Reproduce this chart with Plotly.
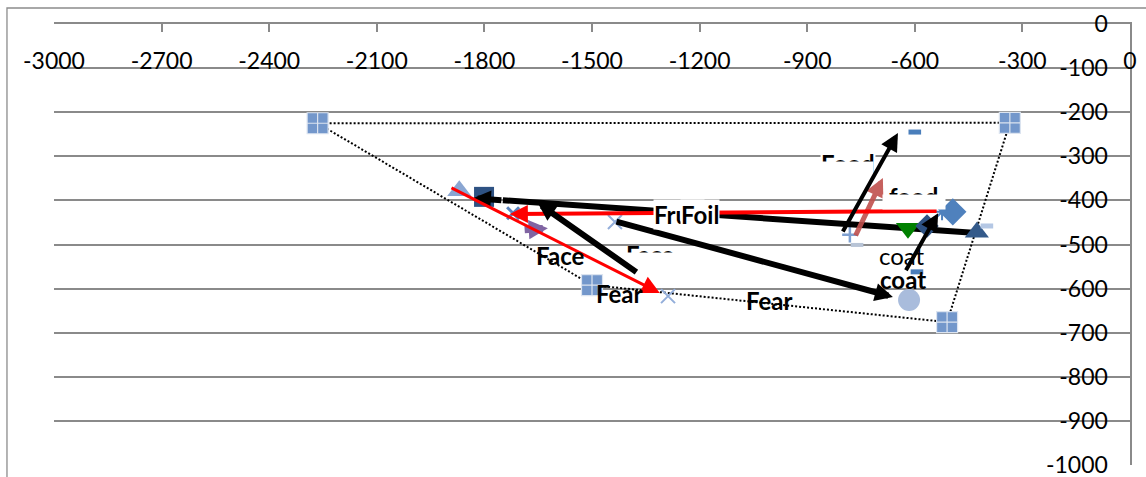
import math
import plotly.graph_objects as go

# ---------------- axes ----------------
x_ticks = [-3000, -2700, -2400, -2100, -1800, -1500, -1200, -900, -600, -300, 0]
y_ticks = [0, -100, -200, -300, -400, -500, -600, -700, -800, -900, -1000]

# ---------------- vowel space outline ----------------
outline_x = [-2265, -335, -510, -1500, -2265]
outline_y = [-225, -224, -676, -592, -225]
corner_x = [-2265, -335, -510, -1500]
corner_y = [-225, -224, -676, -592]

# ---------------- single vowel points ----------------
tri_light_x, tri_light_y = [-1870], [-378]
sq_navy_x, sq_navy_y = [-1801], [-392]
x_blue_x, x_blue_y = [-1720], [-429]
x_light_x, x_light_y = [-1436, -1288], [-449, -617]
dash_blue_x, dash_blue_y = [-600, -594], [-245, -562]
plus_x, plus_y = [-781], [-478]
dash_grey_x, dash_grey_y = [-761], [-501]
circle_x, circle_y = [-616], [-626]
tri_down_x, tri_down_y = [-619], [-463]
dia_navy_x, dia_navy_y = [-566], [-458]
dia_blue_x, dia_blue_y = [-494], [-426]
star_x, star_y = [-524], [-426]
tri_navy_x, tri_navy_y = [-427], [-472]
dash_light_x, dash_light_y = [-399], [-458]

# ---------------- arrows (tail -> head) ----------------
arrow_purple_x, arrow_purple_y = [-1692, -1623], [-467, -463]
arrow_brown_x, arrow_brown_y = [-767, -689], [-483, -349]
arrow_a_x, arrow_a_y = [-427, -1832], [-474, -395]
arrow_b_x, arrow_b_y = [-1372, -1651], [-565, -406]
arrow_c_x, arrow_c_y = [-1436, -661], [-447, -619]
arrow_f_x, arrow_f_y = [-535, -1729], [-424, -431]
arrow_g_x, arrow_g_y = [-1896, -1311], [-370, -610]
arrow_d_x, arrow_d_y = [-803, -647], [-474, -247]
arrow_e_x, arrow_e_y = [-627, -535], [-562, -429]

# ---------------- word labels ----------------
label_text = ["<b>Face</b>", "<b>Fear</b>", "<b>Fear</b>", "coat", "<b>coat</b>"]
label_x = [-1589, -1422, -1004, -636, -633]
label_y = [-524, -610, -626, -524, -580]

FONT = "Lato, Open Sans, sans-serif"
LSIZE = 24
PLOT_W, PLOT_H = 1076, 441
fig = go.Figure()


def line_trace(xs, ys, color, width, dash="solid"):
    fig.add_trace(go.Scatter(x=xs, y=ys, mode="lines", hoverinfo="skip",
                             line=dict(color=color, width=width, dash=dash)))


def marker_trace(xs, ys, symbol, size, color, lcolor=None, lwidth=0):
    fig.add_trace(go.Scatter(x=xs, y=ys, mode="markers", hoverinfo="skip",
                             marker=dict(symbol=symbol, size=size, color=color,
                                         line=dict(color=lcolor or color, width=lwidth))))


def arrow(xs, ys, color, width, asize):
    fig.add_annotation(x=xs[1], y=ys[1], ax=xs[0], ay=ys[0],
                       xref="x", yref="y", axref="x", ayref="y",
                       text="", showarrow=True, arrowhead=2, arrowsize=asize,
                       arrowwidth=width, arrowcolor=color, standoff=0, startstandoff=0)


def split_arrow(xs, ys, color, width, asize, head_px=30):
    # shaft as a trace (so later markers sit on top), head as annotation
    sx, sy = PLOT_W / 3000.0, PLOT_H / 1000.0
    L = math.hypot((xs[0] - xs[1]) * sx, (ys[0] - ys[1]) * sy)
    f = head_px / L
    mx = xs[1] + f * (xs[0] - xs[1])
    my = ys[1] + f * (ys[0] - ys[1])
    line_trace([xs[0], mx], [ys[0], my], color, width)
    arrow([mx, xs[1]], [my, ys[1]], color, width, asize)


# outline
line_trace(outline_x, outline_y, "black", 2, "2px,2px")
marker_trace(corner_x, corner_y, "square-cross", 21, "#7397CB", "#DCE4F0", 1.2)

# points below arrows
marker_trace(tri_light_x, tri_light_y, "triangle-up", 21, "#8AA6D2")
marker_trace(sq_navy_x, sq_navy_y, "square", 20, "#2E5283")
marker_trace(x_blue_x, x_blue_y, "x-thin", 12, "#5B84BE", "#5B84BE", 3)
marker_trace(x_light_x, x_light_y, "x-thin", 14, "#93AEDA", "#93AEDA", 2)
marker_trace(dash_blue_x, dash_blue_y, "line-ew", 9, "#4A7EBB", "#4A7EBB", 5)
marker_trace(plus_x, plus_y, "cross-thin", 11, "#7FA0D0", "#7FA0D0", 2.5)
marker_trace(dash_grey_x, dash_grey_y, "line-ew", 9, "#B8C4D6", "#B8C4D6", 4)
marker_trace(circle_x, circle_y, "circle", 22, "#A9BCDC")

# long black arrow: shaft under the right-hand markers
split_arrow(arrow_a_x, arrow_a_y, "black", 6, 0.6)

# points above that shaft
marker_trace(tri_down_x, tri_down_y, "triangle-down", 21, "#008000")
marker_trace(dia_navy_x, dia_navy_y, "diamond", 18, "#2E5283")
marker_trace(dia_blue_x, dia_blue_y, "diamond", 21, "#4F81BD")
marker_trace(star_x, star_y, "asterisk", 14, "#4F81BD", "#4F81BD", 2)
marker_trace(tri_navy_x, tri_navy_y, "triangle-up", 21, "#345A8A")
marker_trace(dash_light_x, dash_light_y, "line-ew", 9, "#B4C7E4", "#B4C7E4", 5)

# arrows below the labels
arrow(arrow_purple_x, arrow_purple_y, "#8064A2", 7, 0.55)
arrow(arrow_brown_x, arrow_brown_y, "rgba(192,80,77,0.9)", 5, 0.75)
arrow(arrow_c_x, arrow_c_y, "black", 6, 0.6)
arrow(arrow_f_x, arrow_f_y, "#FF0000", 4, 0.9)
arrow(arrow_g_x, arrow_g_y, "#FF0000", 3, 1.2)

# word labels
for t, lx, ly in zip(label_text, label_x, label_y):
    fig.add_annotation(x=lx, y=ly, text=t, showarrow=False,
                       font=dict(family=FONT, size=LSIZE, color="black"))

# overlapping labels with white boxes
fig.add_annotation(x=-1330, y=-433, text="<b>Fruit</b>", showarrow=False, xanchor="left",
                   bgcolor="white", borderpad=0, font=dict(family=FONT, size=LSIZE, color="black"))
fig.add_annotation(x=-1199, y=-433, text="<b>Foil</b>", showarrow=False,
                   bgcolor="white", borderpad=0, font=dict(family=FONT, size=LSIZE, color="black"))
fig.add_annotation(x=-1338, y=-522, text="<b>Face</b>", showarrow=False,
                   font=dict(family=FONT, size=LSIZE, color="black"))
fig.add_annotation(x=-786, y=-317, text="<b>Food</b>", showarrow=False, bgcolor="white",
                   borderpad=0, font=dict(family=FONT, size=LSIZE, color="black"))
fig.add_annotation(x=-605, y=-392, text="<b>food</b>", showarrow=False,
                   font=dict(family=FONT, size=LSIZE, color="black"))
for bx, by, bw, bh in [(-1330, -533, 74, 12), (-796, -337, 57, 21), (-602, -404, 62, 14)]:
    fig.add_annotation(x=bx, y=by, text=" ", showarrow=False, width=bw, height=bh,
                       bgcolor="white", borderpad=0, font=dict(size=1))

# arrows drawn on top of everything
arrow(arrow_b_x, arrow_b_y, "black", 6, 0.6)
arrow(arrow_d_x, arrow_d_y, "black", 4, 0.9)
arrow(arrow_e_x, arrow_e_y, "black", 4, 0.9)

# chart-area border
fig.add_shape(type="rect", xref="paper", yref="paper", x0=-0.0437, x1=1.2, y0=-0.2, y1=1.0363,
              line=dict(color="#8C8C8C", width=1.3), fillcolor="rgba(0,0,0,0)", layer="below")

fig.update_layout(
    width=1146, height=477,
    margin=dict(l=54, r=16, t=24, b=12, autoexpand=False),
    paper_bgcolor="white", plot_bgcolor="white",
    showlegend=False,
    font=dict(family=FONT, size=23, color="black"),
    xaxis=dict(range=[-3000, 0], side="top", tickmode="array", tickvals=x_ticks,
               ticktext=[str(v) for v in x_ticks], automargin=False,
               showline=True, linecolor="#8A8A8A", linewidth=1.5,
               ticks="inside", ticklen=8, tickcolor="#8A8A8A", tickwidth=1.5,
               ticklabelposition="inside", ticklabelstandoff=23, ticklabeloverflow="allow",
               showgrid=False, zeroline=False,
               tickfont=dict(family=FONT, size=23, color="black")),
    yaxis=dict(range=[-1000, 0], side="right", tickmode="array", tickvals=y_ticks,
               ticktext=[str(v) for v in y_ticks], automargin=False,
               showline=True, linecolor="#8A8A8A", linewidth=1.5,
               ticks="", ticklabelposition="inside", ticklabelstandoff=24,
               ticklabeloverflow="allow",
               showgrid=True, gridcolor="#8A8A8A", gridwidth=1.5, zeroline=False,
               tickfont=dict(family=FONT, size=23, color="black")),
)

fig.write_html("out.html")
